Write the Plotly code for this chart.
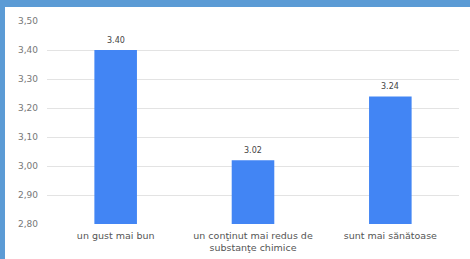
import plotly.graph_objects as go

categories = ["un gust mai bun", "un conţinut mai redus de<br>substanţe chimice", "sunt mai sănătoase"]
values = [3.40, 3.02, 3.24]
value_labels = ["3.40", "3.02", "3.24"]
tick_vals = [2.80, 2.90, 3.00, 3.10, 3.20, 3.30, 3.40, 3.50]

W, H = 470, 259
ml, mr, mt, mb = 47, 11, 21, 35
pw, ph = W - ml - mr, H - mt - mb

fig = go.Figure(go.Bar(
    x=categories, y=values,
    marker=dict(color="#4285F4", line=dict(width=0)),
    width=0.31,
))

for c, v, t in zip(categories, values, value_labels):
    fig.add_annotation(x=c, y=v, text=t, showarrow=False, yanchor="middle",
                       yshift=10,
                       font=dict(family="DejaVu Sans, sans-serif", size=8, color="#444444"))

def px_x(p):
    return (p - ml) / pw

def px_y(p):
    return 1 + (mt - p) / ph

border = "#5B9BD5"
fig.add_shape(type="rect", xref="paper", yref="paper",
              x0=px_x(0), x1=px_x(5), y0=px_y(H), y1=px_y(0),
              fillcolor=border, line=dict(width=0), layer="above")
fig.add_shape(type="rect", xref="paper", yref="paper",
              x0=px_x(0), x1=px_x(W), y0=px_y(7), y1=px_y(0),
              fillcolor=border, line=dict(width=0), layer="above")

fig.update_layout(
    width=W, height=H,
    margin=dict(l=ml, r=mr, t=mt, b=mb, autoexpand=False),
    paper_bgcolor="#ffffff", plot_bgcolor="#ffffff",
    separators=",.",
    showlegend=False,
    font=dict(family="DejaVu Sans, sans-serif", size=9, color="#666666"),
    xaxis=dict(showgrid=False, showline=False, ticks="", automargin=False,
               ticklabelstandoff=4,
               tickfont=dict(family="DejaVu Sans, sans-serif", size=9.5, color="#555555")),
    yaxis=dict(range=[2.80, 3.50], tickvals=tick_vals, tickformat=".2f",
               automargin=False, ticklabelstandoff=8,
               showgrid=True, gridcolor="#e3e3e3", gridwidth=1,
               zeroline=False, showline=False, ticks="",
               tickfont=dict(family="DejaVu Sans, sans-serif", size=9, color="#777777")),
)

fig.write_html("out.html", config={"displayModeBar": False},
               post_script="document.body.style.margin='0';document.body.style.padding='0';document.body.style.overflow='hidden';window.scrollTo(0,0);")
